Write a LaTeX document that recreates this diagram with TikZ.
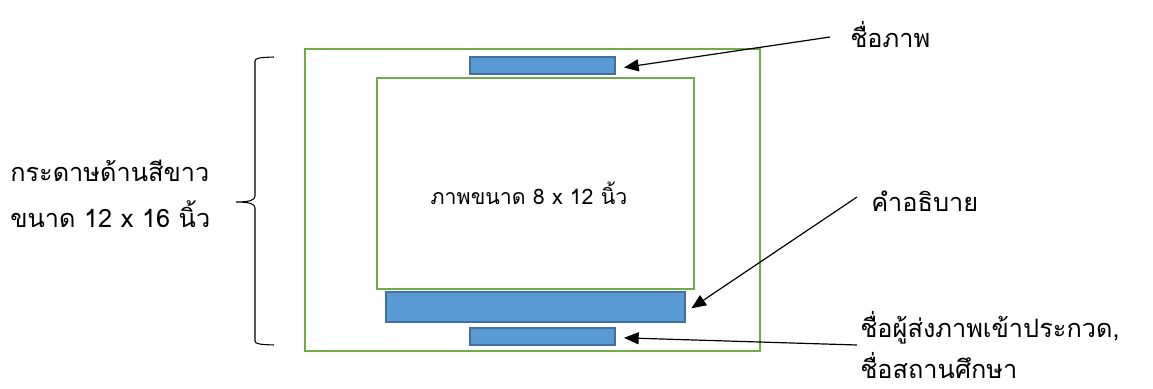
\documentclass[tikz,border=0pt]{standalone}
\usepackage{fontspec}
\newfontfamily\thaifont[Script=Thai]{Loma}
\usetikzlibrary{arrows.meta}

\definecolor{framegreen}{HTML}{70AD47}
\definecolor{barblue}{HTML}{5B9BD5}
\definecolor{barline}{HTML}{41719C}

\begin{document}
\begin{tikzpicture}[x=0.75pt,y=-0.75pt,
	frame/.style={draw=framegreen,line width=2pt,rectangle,inner sep=0pt},
	bar/.style={draw=barline,fill=barblue,line width=1.5pt,rectangle,inner sep=0pt},
	lbl/.style={font=\thaifont\fontsize{19}{31}\selectfont,inner sep=0pt},
	pointer/.style={-{Triangle[length=11pt,width=9pt]},line width=0.9pt}]
				\useasboundingbox (0,0) rectangle (1153,389);

				\node[frame,minimum width=455*0.75pt,minimum height=302*0.75pt] (paper) at (532.5,200) {};
				\node[frame,minimum width=317*0.75pt,minimum height=211*0.75pt] (photo) at (535.5,183.5) {};
				\node[font=\thaifont\fontsize{16}{20}\selectfont,inner sep=0pt] (phototxt) at (529,193) {ภาพขนาด 8 x 12 นิ้ว};

				\node[bar,minimum width=145*0.75pt,minimum height=17*0.75pt] (title) at (542.5,65.5) {};
				\node[bar,minimum width=299*0.75pt,minimum height=30*0.75pt] (caption) at (535.5,307) {};
				\node[bar,minimum width=145*0.75pt,minimum height=17*0.75pt] (sender) at (542.5,336.5) {};

				\node[lbl,anchor=west] (titletxt) at (850,35) {ชื่อภาพ};
				\node[lbl,anchor=west] (captiontxt) at (871,201) {คำอธิบาย};
				\node[lbl,anchor=west,align=left] (sendertxt) at (860,345) {ชื่อผู้ส่งภาพเข้าประกวด,\\ชื่อสถานศึกษา};
				\node[lbl,anchor=west,align=left,font=\thaifont\fontsize{19}{35}\selectfont] (papertxt) at (10,194) {กระดาษด้านสีขาว\\ขนาด 12 x 16 นิ้ว};

				\coordinate (titlefrom) at (830,37);
				\coordinate (captionfrom) at (857,197);
				\coordinate (senderfrom) at (857,345);

				\draw[pointer] (titlefrom) -- ([xshift=6pt,yshift=-1.5pt]title.east);
				\draw[pointer] (captionfrom) -- ([xshift=4pt,yshift=-1pt]caption.east);
				\draw[pointer] (senderfrom) -- ([xshift=6pt,yshift=-1pt]sender.east);
				% brace
				\draw[line width=0.8pt] (274,57) .. controls (260,57.5) and (255,58) .. (255,61) -- (255,196)
					.. controls (255,200) and (250,202) .. (236,202) .. controls (250,202) and (255,204) .. (255,208)
					-- (255,341) .. controls (255,344) and (260,344.5) .. (274,345);
			\end{tikzpicture}
\end{document}
